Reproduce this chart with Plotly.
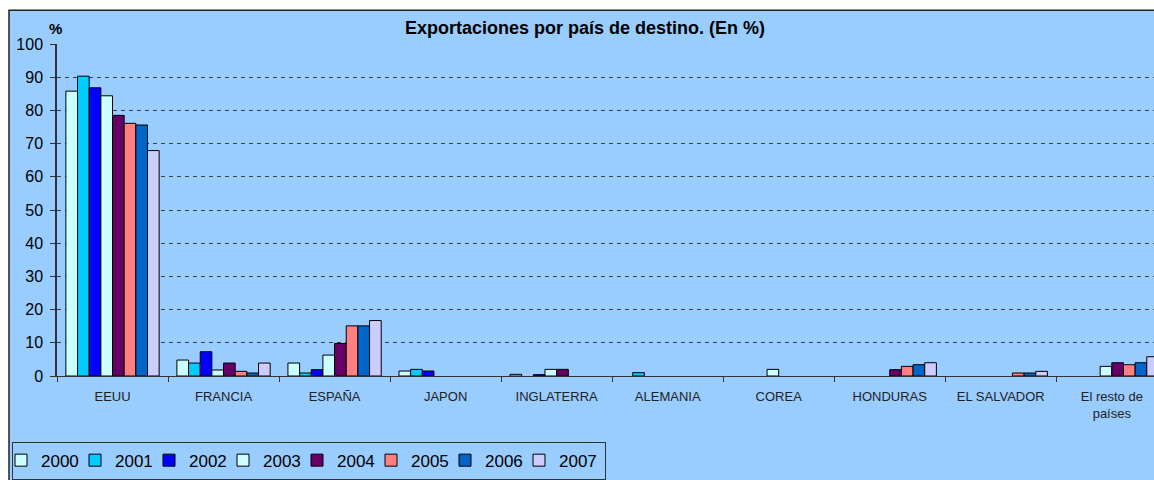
import plotly.graph_objects as go

categories = ["EEUU", "FRANCIA", "ESPAÑA", "JAPON", "INGLATERRA", "ALEMANIA",
              "COREA", "HONDURAS", "EL SALVADOR", "El resto de<br>países"]
years = ["2000", "2001", "2002", "2003", "2004", "2005", "2006", "2007"]
colors = ["#CCFFFF", "#00CCFF", "#0000FF", "#CCFFFF", "#660066", "#FF8080", "#0066CC", "#CCCCFF"]

v2000 = [85.8, 4.8, 3.9, 1.5, 0.5, None, None, None, None, None]
v2001 = [90.3, 3.9, 0.9, 2.0, None, 1.0, None, None, None, None]
v2002 = [86.8, 7.3, 1.9, 1.5, 0.4, None, None, None, None, None]
v2003 = [84.4, 1.8, 6.3, None, 2.0, None, 2.0, None, None, 2.9]
v2004 = [78.5, 3.9, 9.8, None, 2.0, None, None, 1.9, None, 4.0]
v2005 = [76.1, 1.4, 15.1, None, None, None, None, 2.9, 0.9, 3.4]
v2006 = [75.6, 0.9, 15.1, None, None, None, None, 3.4, 0.9, 4.0]
v2007 = [67.9, 3.9, 16.7, None, None, None, None, 4.0, 1.4, 5.8]
series = [v2000, v2001, v2002, v2003, v2004, v2005, v2006, v2007]

y_ticks = list(range(0, 101, 10))

fig = go.Figure()
for yr, col, vals in zip(years, colors, series):
    fig.add_trace(go.Bar(
        x=categories, y=vals, name=yr,
        marker=dict(color=col, line=dict(color="#000000", width=1)),
    ))

W, H = 1154, 480
ml, mr, mt, mb = 57, 0, 44, 102
pw, ph = W - ml - mr, H - mt - mb

def px_x(x):
    return (x - ml) / pw

def px_y(y):
    return (H - mb - y) / ph

fig.add_shape(type="rect", xref="paper", yref="paper",
              x0=px_x(9), x1=px_x(1170), y0=px_y(490), y1=px_y(10),
              fillcolor="#99CCFF", line=dict(color="#222222", width=1.5),
              layer="below")

fig.update_layout(
    width=W, height=H,
    margin=dict(l=ml, r=mr, t=mt, b=mb),
    paper_bgcolor="#FFFFFF",
    plot_bgcolor="#99CCFF",
    barmode="group", bargap=0.16, bargroupgap=0,
    font=dict(family="Liberation Sans, Arial, sans-serif", color="#000000"),
    showlegend=True,
    legend=dict(orientation="h", x=px_x(12), xanchor="left", y=px_y(444), yanchor="top",
                bgcolor="#99CCFF", bordercolor="#333333", borderwidth=1,
                font=dict(size=17, color="#000000"), traceorder="normal",
                itemwidth=30, tracegroupgap=0, indentation=-12,
                entrywidth=41, entrywidthmode="pixels"),
    xaxis=dict(range=[-0.5, 9.38], showline=True, linecolor="#333333", linewidth=1,
               ticks="outside", tickson="boundaries", ticklen=5, tickcolor="#333333",
               ticklabelstandoff=8,
               tickfont=dict(size=13, color="#222222"), showgrid=False, fixedrange=True),
    yaxis=dict(range=[0, 100], tickvals=y_ticks, showline=True, linecolor="#333333",
               linewidth=1.5, ticks="outside", ticklen=5, tickcolor="#333333",
               ticklabelstandoff=4,
               tickfont=dict(size=16, color="#000000"),
               showgrid=True, gridcolor="#404040", gridwidth=1, griddash="4px,4px",
               zeroline=False),
    annotations=[
        dict(text="<b>Exportaciones por país de destino. (En %)</b>", xref="paper", yref="paper",
             x=px_x(585), y=px_y(28), xanchor="center", yanchor="middle", showarrow=False,
             font=dict(size=18, color="#000000")),
        dict(text="<b>%</b>", xref="paper", yref="paper",
             x=px_x(55), y=px_y(28), xanchor="center", yanchor="middle", showarrow=False,
             font=dict(size=15, color="#000000")),
    ],
)

fig.write_html("out.html", config={"displayModeBar": False},
               post_script="document.body.style.margin='0';document.body.style.overflow='hidden';")
